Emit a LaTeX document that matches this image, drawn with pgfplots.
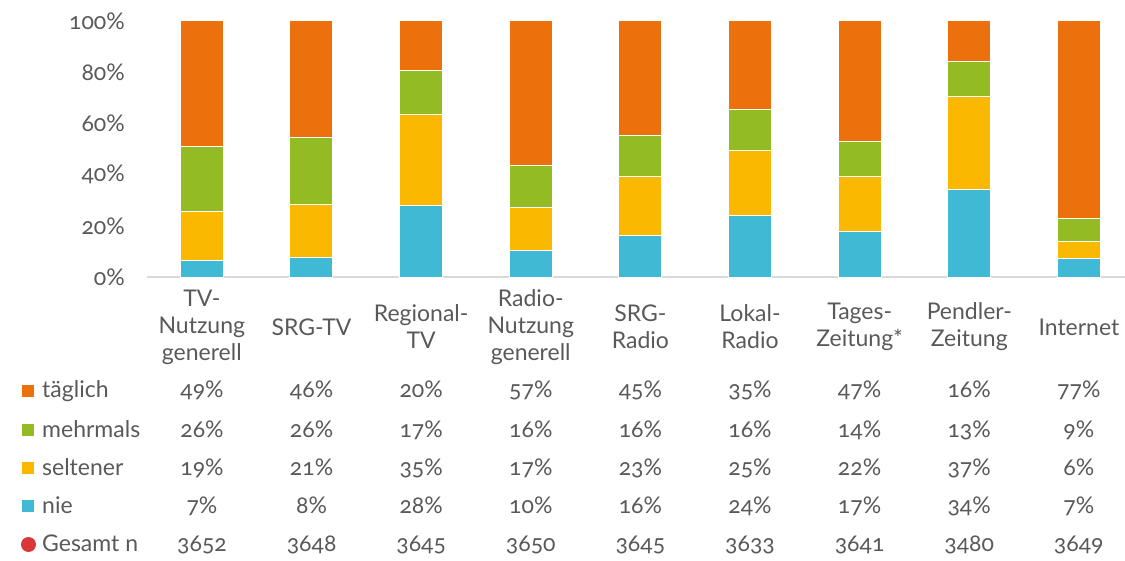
\documentclass[border=0pt]{standalone}
\usepackage{pgfplots}
\pgfplotsset{compat=1.18}
\usepackage{fontspec}
\setmainfont[Numbers=OldStyle]{Lato}
\definecolor{ctxt}{HTML}{595959}
\definecolor{cor}{HTML}{EC700C}
\definecolor{cgr}{HTML}{93BB24}
\definecolor{cye}{HTML}{FAB800}
\definecolor{ccy}{HTML}{40BAD4}
\definecolor{cred}{HTML}{D9383A}
\definecolor{cax}{HTML}{D9D9D9}
\pgfplotstableread{
x nie seltener mehrmals taeglich
0 6.6 18.8 25.4 49.2
1 7.8 20.7 25.8 45.7
2 28.1 35.2 17.2 19.5
3 10.5 16.8 16.1 56.6
4 16.4 22.7 16.0 44.9
5 24.2 25.4 16.0 34.4
6 17.6 21.5 14.0 46.9
7 34.0 36.7 13.3 16.0
8 7.4 6.3 9.3 77.0
}\data
\begin{document}
\begin{tikzpicture}[font=\fontsize{23}{27}\selectfont, text=ctxt]
\useasboundingbox (0,0) rectangle (1125pt,-561pt);
\begin{axis}[
  at={(147pt,-277pt)}, anchor=south west,
  scale only axis, width=978pt, height=256pt,
  xmin=-0.5, xmax=8.42, ymin=0, ymax=100,
  ybar stacked, bar width=43pt,
  axis x line*=bottom, axis y line*=left,
  x axis line style={draw=cax, line width=1.5pt},
  y axis line style={draw=none},
  major tick length=0pt,
  xtick={0,...,8},
  xticklabels={{TV-\\Nutzung\\generell},{SRG-TV},{Regional-\\TV},{Radio-\\Nutzung\\generell},{SRG-\\Radio},{Lokal-\\Radio},{Tages-\\Zeitung*},{Pendler-\\Zeitung},{Internet}},
  xticklabel style={align=center, anchor=center, yshift=-50pt, text=ctxt, font=\fontsize{23}{27}\selectfont},
  ytick={0,20,40,60,80,100},
  yticklabels={0\%,20\%,40\%,60\%,80\%,100\%},
  yticklabel style={anchor=east, inner sep=0pt, xshift=-22pt, text=ctxt},
  clip=false,
]
\addplot[fill=ccy, draw=white, line width=1pt] table[x=x,y=nie]{\data};
\addplot[fill=cye, draw=white, line width=1pt] table[x=x,y=seltener]{\data};
\addplot[fill=cgr, draw=white, line width=1pt] table[x=x,y=mehrmals]{\data};
\addplot[fill=cor, draw=white, line width=1pt] table[x=x,y=taeglich]{\data};
\end{axis}
% legend column
\fill[cor] (22pt,-385pt) rectangle (34pt,-397pt);
\fill[cgr] (22pt,-424pt) rectangle (34pt,-436pt);
\fill[cye] (22pt,-462pt) rectangle (34pt,-474pt);
\fill[ccy] (22pt,-500pt) rectangle (34pt,-512pt);
\fill[cred] (28.5pt,-544.5pt) circle (7.5pt);
\node[anchor=base west, inner sep=0pt] at (42pt,-398pt) {täglich};
\node[anchor=base west, inner sep=0pt] at (42pt,-437pt) {mehrmals};
\node[anchor=base west, inner sep=0pt] at (42pt,-475pt) {seltener};
\node[anchor=base west, inner sep=0pt] at (42pt,-513pt) {nie};
\node[anchor=base west, inner sep=0pt] at (42pt,-551pt) {Gesamt n};
\foreach \cx/\a/\b/\c/\d/\n in {
  202/49/26/19/7/3652,
  311.6/46/26/21/8/3648,
  421.2/20/17/35/28/3645,
  530.8/57/16/17/10/3650,
  640.4/45/16/23/16/3645,
  750/35/16/25/24/3633,
  859.6/47/14/22/17/3641,
  969.2/16/13/37/34/3480,
  1078.8/77/9/6/7/3649}{
  \node[anchor=base, inner sep=0pt] at (\cx pt,-398pt) {\a\%};
  \node[anchor=base, inner sep=0pt] at (\cx pt,-437pt) {\b\%};
  \node[anchor=base, inner sep=0pt] at (\cx pt,-475pt) {\c\%};
  \node[anchor=base, inner sep=0pt] at (\cx pt,-513pt) {\d\%};
  \node[anchor=base, inner sep=0pt] at (\cx pt,-551pt) {\n};
}
\end{tikzpicture}
\end{document}
